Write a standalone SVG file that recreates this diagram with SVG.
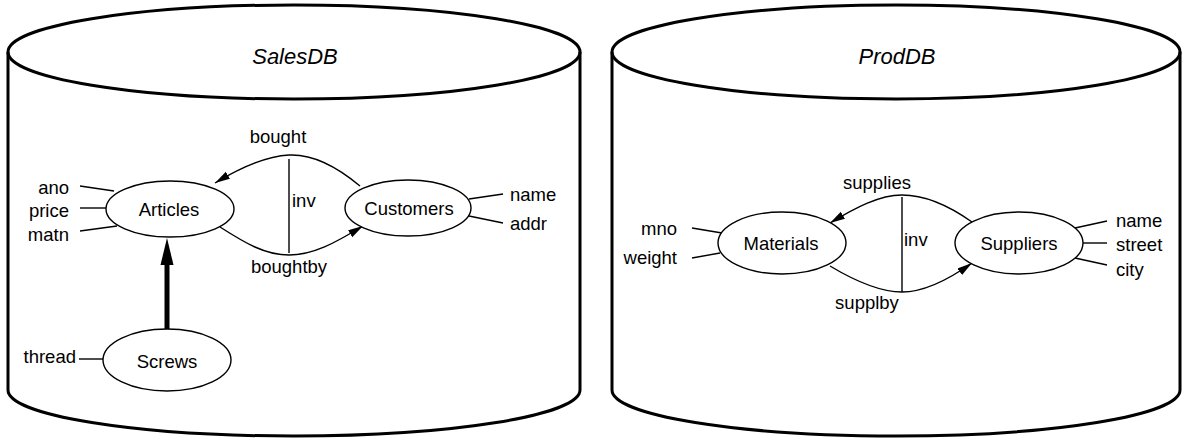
<svg xmlns="http://www.w3.org/2000/svg" width="1182" height="441" viewBox="0 0 1182 441">
  <style>
    .db { fill: none; stroke: #000; stroke-width: 3; }
    .node { fill: #fff; stroke: #000; stroke-width: 1.4; }
    .attr { stroke: #000; stroke-width: 1.4; fill: none; }
    .rel { stroke: #000; stroke-width: 1.4; fill: none; }
    text { font-family: "Liberation Sans", Arial, Helvetica, sans-serif; font-size: 18.5px; fill: #000; }
    .title { font-size: 22px; font-style: italic; text-anchor: middle; }
    .c { text-anchor: middle; }
    .r { text-anchor: end; }
  </style>
  <defs>
    <marker id="head" markerUnits="userSpaceOnUse" markerWidth="16" markerHeight="10" refX="15" refY="4" orient="auto">
      <path d="M0,0 L15,4 L0,8 z" fill="#000"/>
    </marker>
  </defs>

  <!-- database cylinders -->
  <g id="salesdb">
    <path class="db" d="M8,52 L8,390 A286,46 0 0 0 580,390 L580,52"/>
    <ellipse class="db" cx="294" cy="52" rx="286" ry="47"/>
    <text class="title" x="295" y="64">SalesDB</text>
  </g>
  <g id="proddb">
    <path class="db" d="M612,52 L612,390 A284,46 0 0 0 1180,390 L1180,52"/>
    <ellipse class="db" cx="896" cy="52" rx="284" ry="47"/>
    <text class="title" x="897" y="64">ProdDB</text>
  </g>

  <!-- connectors -->
  <g id="connectors">
    <!-- SalesDB relationships -->
    <path class="rel" d="M360,186 C335,165 310,154 289,155 S240,168 215,183" marker-end="url(#head)"/>
    <path class="rel" d="M220,227 C245,243 265,255 289,255 S335,243 363,226" marker-end="url(#head)"/>
    <line class="rel" x1="289" y1="159" x2="289" y2="253"/>
    <line x1="167" y1="329" x2="167" y2="262" stroke="#000" stroke-width="5"/>
    <polygon points="167,238 160.5,265 173.5,265" fill="#000"/>
    <!-- ProdDB relationships -->
    <path class="rel" d="M972,222 C948,205 925,195 902,195 S855,208 830,223" marker-end="url(#head)"/>
    <path class="rel" d="M830,266 C855,281 880,292 902,292 S948,280 972,263" marker-end="url(#head)"/>
    <line class="rel" x1="902" y1="197" x2="902" y2="292"/>
    <!-- attribute stubs -->
    <line class="attr" x1="80" y1="186" x2="114" y2="191"/>
    <line class="attr" x1="80" y1="208" x2="106" y2="208"/>
    <line class="attr" x1="80" y1="231" x2="117" y2="226"/>
    <line class="attr" x1="469" y1="199" x2="503" y2="194"/>
    <line class="attr" x1="469" y1="216" x2="503" y2="223"/>
    <line class="attr" x1="79" y1="359" x2="103" y2="359"/>
    <line class="attr" x1="692" y1="228" x2="722" y2="233"/>
    <line class="attr" x1="692" y1="258" x2="720" y2="253"/>
    <line class="attr" x1="1075" y1="228" x2="1107" y2="221"/>
    <line class="attr" x1="1083" y1="243" x2="1107" y2="243"/>
    <line class="attr" x1="1075" y1="258" x2="1107" y2="265"/>
  </g>

  <!-- relationship labels -->
  <text class="c" x="278" y="143">bought</text>
  <text class="c" x="289" y="273">boughtby</text>
  <text x="292" y="207">inv</text>
  <text class="c" x="877" y="189">supplies</text>
  <text class="c" x="867" y="309">supplby</text>
  <text x="904" y="246">inv</text>

  <!-- attribute labels -->
  <text class="r" x="69" y="194">ano</text>
  <text class="r" x="69" y="217">price</text>
  <text class="r" x="69" y="241">matn</text>
  <text x="510" y="201">name</text>
  <text x="510" y="230">addr</text>
  <text class="r" x="76" y="363">thread</text>
  <text class="r" x="677" y="235">mno</text>
  <text class="r" x="677" y="264">weight</text>
  <text x="1116" y="227">name</text>
  <text x="1116" y="251">street</text>
  <text x="1116" y="276">city</text>

  <!-- class nodes -->
  <g id="articles">
    <ellipse class="node" cx="170" cy="209" rx="64" ry="28"/>
    <text class="c" x="169" y="216">Articles</text>
  </g>
  <g id="customers">
    <ellipse class="node" cx="408" cy="208" rx="63" ry="28"/>
    <text class="c" x="409" y="215">Customers</text>
  </g>
  <g id="screws">
    <ellipse class="node" cx="167" cy="360" rx="64" ry="31"/>
    <text class="c" x="167" y="368">Screws</text>
  </g>
  <g id="materials">
    <ellipse class="node" cx="782" cy="243" rx="64" ry="31"/>
    <text class="c" x="781" y="250">Materials</text>
  </g>
  <g id="suppliers">
    <ellipse class="node" cx="1019" cy="243" rx="64" ry="31"/>
    <text class="c" x="1019" y="250">Suppliers</text>
  </g>
</svg>
